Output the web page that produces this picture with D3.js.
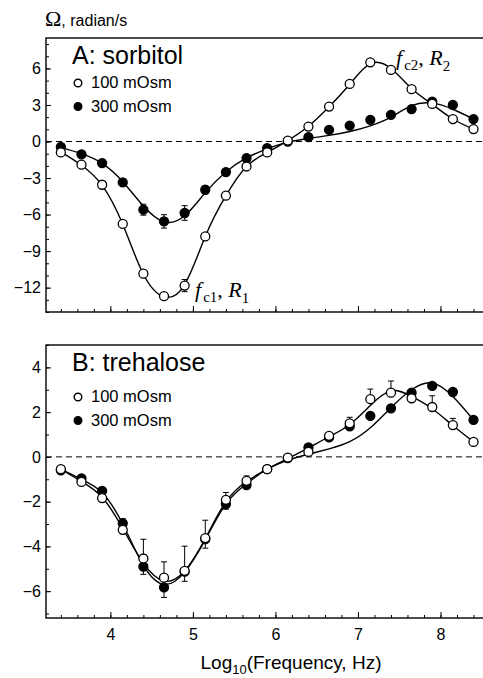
<!DOCTYPE html>
<html>
<head>
<meta charset="utf-8">
<script src="https://cdn.jsdelivr.net/npm/d3@7"></script>
<style>
  body { margin: 0; background: #fff; }
  svg { display: block; font-family: "Liberation Sans", Arial, sans-serif; }
</style>
</head>
<body>
<div id="chart"></div>
<script>
/* DATA */
const logFreq = [3.4, 3.65, 3.9, 4.15, 4.4, 4.65, 4.9, 5.15, 5.4, 5.65, 5.9,
  6.15, 6.4, 6.65, 6.9, 7.15, 7.4, 7.65, 7.9, 8.15, 8.4];

// A: sorbitol, measured points
const sorb100 = [-0.9, -1.9, -3.55, -6.77, -10.85, -12.7, -11.83, -7.79, -4.45, -2.05, -0.9,
  0.08, 1.23, 2.87, 4.73, 6.5, 5.88, 4.3, 3.09, 1.84, 1.02];
const sorb300 = [-0.45, -1.05, -1.77, -3.36, -5.6, -6.56, -5.87, -3.96, -2.51, -1.36, -0.54,
  0.0, 0.36, 0.96, 1.31, 1.78, 2.19, 2.66, 3.28, 3.0, 1.84];
// error bars (half length), 0 = none
const sorb100Err = [0, 0, 0, 0, 0, 0.25, 0.5, 0, 0, 0, 0, 0, 0, 0, 0, 0, 0, 0, 0, 0, 0];
const sorb300Err = [0, 0, 0, 0, 0.45, 0.55, 0.6, 0.3, 0, 0, 0, 0, 0, 0, 0, 0, 0, 0, 0, 0, 0];
// fitted curves
const sorb100Fit = [-0.85, -1.95, -3.6, -6.8, -10.9, -12.75, -11.75, -7.8, -4.45, -2.05, -0.9,
  0.08, 1.25, 2.85, 4.7, 6.4, 6.0, 4.35, 3.05, 1.85, 1.02];
const sorb300Fit = [-0.5, -1.0, -1.8, -3.3, -5.3, -6.6, -6.1, -4.2, -2.5, -1.35, -0.6,
  -0.05, 0.25, 0.5, 0.82, 1.29, 2.0, 2.95, 3.15, 2.65, 1.84];

// B: trehalose, measured points
const treh100 = [-0.55, -1.12, -1.84, -3.26, -4.54, -5.4, -5.09, -3.63, -1.92, -1.07, -0.55,
  -0.03, 0.22, 0.94, 1.5, 2.58, 2.87, 2.62, 2.23, 1.42, 0.67];
const treh300 = [-0.6, -0.96, -1.52, -2.97, -4.9, -5.83, -5.13, -3.68, -2.11, -1.26, -0.55,
  -0.05, 0.42, 0.87, 1.36, 1.83, 2.17, 2.87, 3.17, 2.9, 1.65];
// upper bars for 100 mOsm, lower bars for 300 mOsm
const treh100Err = [0, 0, 0, 0.5, 0.86, 0.71, 1.1, 0.8, 0.33, 0.22, 0, 0, 0, 0.15, 0.27, 0.45, 0.52, 0.2, 0.5, 0.3, 0];
const treh300Err = [0, 0, 0, 0, 0.35, 0.45, 0.43, 0.4, 0.23, 0, 0, 0, 0, 0, 0, 0, 0, 0, 0, 0, 0];
const treh100Fit = [-0.55, -1.1, -1.8, -3.2, -4.75, -5.55, -5.1, -3.65, -2.0, -1.1, -0.55,
  -0.08, 0.4, 0.9, 1.45, 2.3, 2.95, 2.7, 2.15, 1.4, 0.67];
const treh300Fit = [-0.55, -1.0, -1.6, -3.0, -4.85, -5.7, -5.15, -3.7, -2.1, -1.2, -0.55,
  -0.15, 0.12, 0.36, 0.68, 1.3, 2.2, 3.0, 3.3, 2.7, 1.65];

const xMajor = [4, 5, 6, 7, 8];
const sorbTicks = [-12, -9, -6, -3, 0, 3, 6];
const trehTicks = [-6, -4, -2, 0, 2, 4];
const legendLabels = ["100 mOsm", "300 mOsm"];

/* LAYOUT */
const width = 483, height = 678;
const left = 46, right = 490;
const serif = "'Liberation Serif', 'Times New Roman', serif";

const svg = d3.select("#chart").append("svg")
  .attr("width", width)
  .attr("height", height);

const xScale = d3.scaleLinear().domain([3.22, 8.6]).range([left, right]);
const xMinor = d3.range(3.4, 8.61, 0.2).map(d => +d.toFixed(1));

function panel(opts) {
  const { top, bottom, domain, ticks, minor, title, series, fits, errs, errMode, showX, legendY } = opts;
  const yScale = d3.scaleLinear().domain(domain).range([bottom, top]);
  const g = svg.append("g");

  // frame (right side sits outside the picture)
  g.append("rect")
    .attr("x", left).attr("y", top)
    .attr("width", right - left + 10).attr("height", bottom - top)
    .attr("fill", "none").attr("stroke", "#000").attr("stroke-width", 1.4);

  // zero line
  g.append("line")
    .attr("x1", left).attr("x2", right)
    .attr("y1", yScale(0)).attr("y2", yScale(0))
    .attr("stroke", "#000").attr("stroke-width", 1)
    .attr("stroke-dasharray", "6,4");

  // y axis
  const yAx = g.append("g").attr("transform", `translate(${left},0)`)
    .call(d3.axisLeft(yScale).tickValues(ticks).tickSizeInner(-5).tickSizeOuter(0).tickPadding(5));
  yAx.select(".domain").remove();
  yAx.selectAll("text").attr("font-size", 16).attr("fill", "#000");
  const yMin = g.append("g").attr("transform", `translate(${left},0)`)
    .call(d3.axisLeft(yScale).tickValues(minor).tickSizeInner(-3).tickSizeOuter(0).tickFormat(""));
  yMin.select(".domain").remove();

  // x axis
  const xAx = g.append("g").attr("transform", `translate(0,${bottom})`)
    .call(d3.axisBottom(xScale).tickValues(xMajor).tickSizeInner(-6).tickSizeOuter(0).tickPadding(11)
      .tickFormat(showX ? d3.format("d") : ""));
  xAx.select(".domain").remove();
  xAx.selectAll("text").attr("font-size", 16).attr("fill", "#000");
  const xMin = g.append("g").attr("transform", `translate(0,${bottom})`)
    .call(d3.axisBottom(xScale).tickValues(xMinor).tickSizeInner(-3).tickSizeOuter(0).tickFormat(""));
  xMin.select(".domain").remove();
  g.selectAll(".tick line").attr("stroke", "#000").attr("stroke-width", 1);

  // fitted curves
  const line = d3.line()
    .x((d, i) => xScale(logFreq[i]))
    .y(d => yScale(d))
    .curve(d3.curveNatural);
  g.selectAll("path.fit")
    .data(fits)
    .join("path")
    .attr("class", "fit")
    .attr("d", d => line(d))
    .attr("fill", "none")
    .attr("stroke", "#000")
    .attr("stroke-width", 1.4);

  // error bars
  series.forEach((vals, s) => {
    const bars = vals.map((v, i) => ({ x: logFreq[i], v, e: errs[s][i] })).filter(d => d.e > 0);
    const lo = d => errMode === "both" ? d.v - d.e : (s === 0 ? d.v : d.v - d.e);
    const hi = d => errMode === "both" ? d.v + d.e : (s === 0 ? d.v + d.e : d.v);
    const eg = g.append("g").attr("stroke", "#000").attr("stroke-width", 1);
    eg.selectAll("line.bar").data(bars).join("line").attr("class", "bar")
      .attr("x1", d => xScale(d.x)).attr("x2", d => xScale(d.x))
      .attr("y1", d => yScale(lo(d))).attr("y2", d => yScale(hi(d)));
    const caps = [];
    bars.forEach(d => {
      if (errMode === "both" || s === 0) caps.push({ x: d.x, y: hi(d) });
      if (errMode === "both" || s === 1) caps.push({ x: d.x, y: lo(d) });
    });
    eg.selectAll("line.cap").data(caps).join("line").attr("class", "cap")
      .attr("x1", d => xScale(d.x) - 3).attr("x2", d => xScale(d.x) + 3)
      .attr("y1", d => yScale(d.y)).attr("y2", d => yScale(d.y));
  });

  // points: filled first, open on top
  [1, 0].forEach(s => {
    g.append("g").selectAll("circle")
      .data(series[s])
      .join("circle")
      .attr("cx", (d, i) => xScale(logFreq[i]))
      .attr("cy", d => yScale(d))
      .attr("r", 4.5)
      .attr("fill", s === 0 ? "#fff" : "#000")
      .attr("stroke", "#000")
      .attr("stroke-width", 1.3);
  });

  // panel title and legend
  g.append("text").attr("x", 72).attr("y", top + 26)
    .attr("font-size", 25).attr("fill", "#000").text(title);
  legendLabels.forEach((lab, i) => {
    const ly = legendY + i * 23.5;
    g.append("circle").attr("cx", 78).attr("cy", ly - 5).attr("r", 3.8)
      .attr("fill", i === 0 ? "#fff" : "#000").attr("stroke", "#000").attr("stroke-width", 1.4);
    g.append("text").attr("x", 91).attr("y", ly)
      .attr("font-size", 16.5).attr("fill", "#000").text(lab);
  });
  return g;
}

const gA = panel({
  top: 38, bottom: 312, domain: [-14, 8.5],
  ticks: sorbTicks, minor: d3.range(-14, 9, 1),
  title: "A: sorbitol",
  series: [sorb100, sorb300], fits: [sorb100Fit, sorb300Fit],
  errs: [sorb100Err, sorb300Err], errMode: "both",
  showX: false, legendY: 88
});

const gB = panel({
  top: 345, bottom: 618, domain: [-7.2, 5],
  ticks: trehTicks, minor: d3.range(-7, 6, 1),
  title: "B: trehalose",
  series: [treh100, treh300], fits: [treh100Fit, treh300Fit],
  errs: [treh100Err, treh300Err], errMode: "split",
  showX: true, legendY: 402
});

// annotations
function fcLabel(g, x, y, n) {
  const t = g.append("text").attr("x", x).attr("y", y)
    .style("font-family", serif)
    .attr("font-size", 22).attr("fill", "#000");
  t.append("tspan").attr("font-style", "italic").text("f");
  t.append("tspan").attr("font-size", 15).attr("dy", 5).attr("dx", 2).text("c" + n);
  t.append("tspan").attr("dy", -5).text(", ");
  t.append("tspan").attr("font-style", "italic").text("R");
  t.append("tspan").attr("font-size", 15).attr("dy", 6).text(n);
}
fcLabel(gA, 195, 297, "1");
fcLabel(gA, 396, 65, "2");

// y title
const yt = svg.append("text").attr("x", 45).attr("y", 26).attr("fill", "#000");
yt.append("tspan").style("font-family", serif).attr("font-size", 22).text("Ω");
yt.append("tspan").attr("font-size", 16).text(", radian/s");

// x title
const xt = svg.append("text").attr("x", 291).attr("y", 669)
  .attr("text-anchor", "middle").attr("font-size", 19).attr("fill", "#000");
xt.append("tspan").text("Log");
xt.append("tspan").attr("font-size", 13).attr("dy", 5).text("10");
xt.append("tspan").attr("dy", -5).text("(Frequency, Hz)");
</script>
</body>
</html>
